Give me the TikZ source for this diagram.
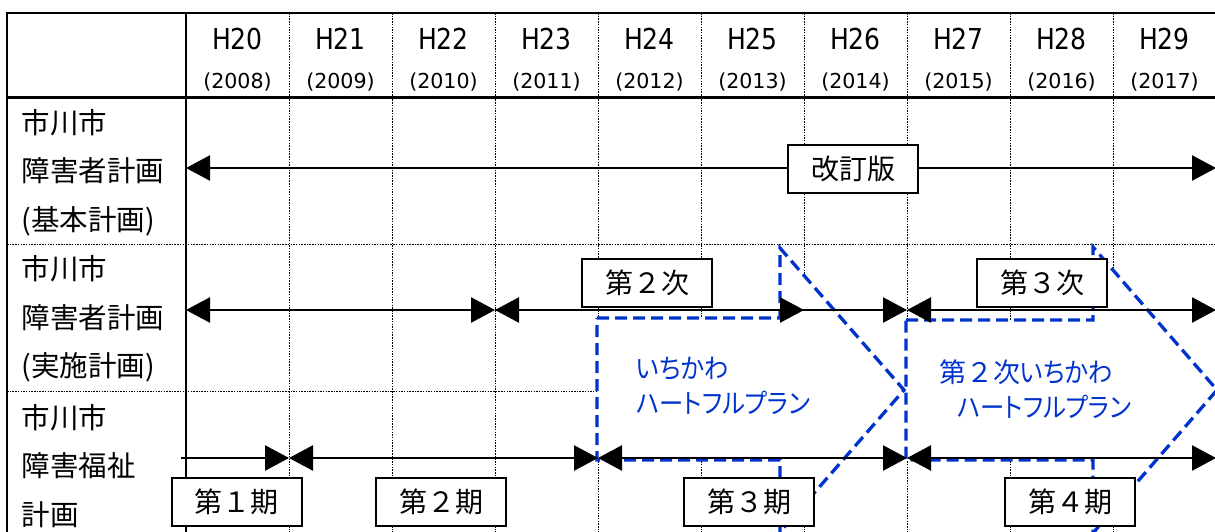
\documentclass[tikz,border=0pt]{standalone}
\usepackage{fontspec}
\setmainfont{Noto Sans CJK JP}
\newfontfamily\jpfont{Noto Sans CJK JP}
\newfontfamily\planfont[RawFeature=+palt, FakeStretch=0.9]{Noto Sans CJK JP}
\newfontfamily\yearfont{DejaVu Sans}
\newfontfamily\heiseifont[FakeStretch=0.87]{DejaVu Sans}
\usetikzlibrary{arrows.meta}
\definecolor{planblue}{RGB}{0,51,204}

\begin{document}
\begin{tikzpicture}[x=1pt,y=-1pt]
\tikzset{gridline/.style={line width=1pt, dash pattern=on 1.5pt off 1.2pt},
  rule/.style={line width=2.5pt},
  period/.style={line width=2.6pt, {Triangle[length=24pt,width=25pt]}-{Triangle[length=24pt,width=25pt]}},
  periodend/.style={line width=2.6pt, -{Triangle[length=24pt,width=25pt]}},
  termbox/.style={draw, line width=2pt, fill=white, minimum width=130pt, minimum height=48pt, inner sep=0pt, font=\fontsize{28}{30}\selectfont},
  rowlabel/.style={anchor=west, inner sep=0pt, align=left, font=\fontsize{28.5}{48.5}\selectfont},
  planarrow/.style={draw=planblue, line width=3.3pt, dash pattern=on 12pt off 6pt, fill=white},
  plantext/.style={anchor=west, inner sep=0pt, align=left, text=planblue, font=\planfont\fontsize{27}{34.5}\selectfont}}
\useasboundingbox (0,0) rectangle (1215,531);
\foreach \k in {1,...,9}
  \draw[gridline] (186+103*\k,13) -- (186+103*\k,535);
\foreach \y in {244,391}
  \draw[gridline] (7,\y) -- (1220,\y);
\draw[rule] (7,535) -- (7,13) -- (1220,13);
\draw[rule] (7,97.5) -- (1220,97.5);
\draw[rule] (186,13) -- (186,535);
\foreach \h [count=\k from 0] in {20,...,29} {
  \pgfmathtruncatemacro\yr{\h+1988}
  \node[anchor=base, inner sep=0pt, font=\heiseifont\fontsize{28.8}{30}\selectfont] (h\h) at (237.5+103*\k,49.3) {H\h};
  \node[anchor=base, inner sep=0pt, font=\yearfont\fontsize{20.6}{22}\selectfont] (y\h) at (237.5+103*\k,88.3) {(\yr)};
}
\node[rowlabel] (basic) at (21.5,172.5) {市川市\\障害者計画\\(基本計画)};
\node[rowlabel] (action) at (21.5,319) {市川市\\障害者計画\\(実施計画)};
\node[rowlabel] (welfare) at (21.5,466) {市川市\\障害福祉\\計画};
\draw[planarrow] (597,318) -- (780,318) -- (780,248) -- (904,390) -- (780,532) -- (780,460) -- (597,460) -- cycle;
\draw[planarrow] (906,320) -- (1093,320) -- (1093,247) -- (1217,390) -- (1093,533) -- (1093,460) -- (906,460) -- cycle;
\node[plantext] (plan1) at (636,386) {いちかわ\\ハートフルプラン};
\node[plantext] (plan2) at (939,389) {{\jpfont 第２次}いちかわ\\\hspace*{18pt}ハートフルプラン};
\foreach \r/\y in {1/168,2/310,3/458}
  \foreach \k in {0,...,10}
    \coordinate (p\r-\k) at (186+103*\k,\y);
\coordinate (start3) at (181,458);
\draw[period] (p1-0) -- (p1-10);
\draw[period] (p2-0) -- (p2-3);
\draw[period] (p2-3) -- (p2-7);
\draw[periodend] (p2-3) -- (p2-6);
\draw[period] (p2-7) -- (p2-10);
\draw[periodend] (start3) -- (p3-1);
\draw[period] (p3-1) -- (p3-4);
\draw[period] (p3-4) -- (p3-7);
\draw[period] (p3-7) -- (p3-10);
\node[termbox] (revised) at (853,169) {改訂版};
\node[termbox] (second) at (647,282.5) {第２次};
\node[termbox] (third) at (1042,282.5) {第３次};
\node[termbox] (term1) at (236.5,502) {第１期};
\node[termbox] (term2) at (441,502) {第２期};
\node[termbox] (term3) at (749,502) {第３期};
\node[termbox] (term4) at (1070,502) {第４期};
\end{tikzpicture}
\end{document}
